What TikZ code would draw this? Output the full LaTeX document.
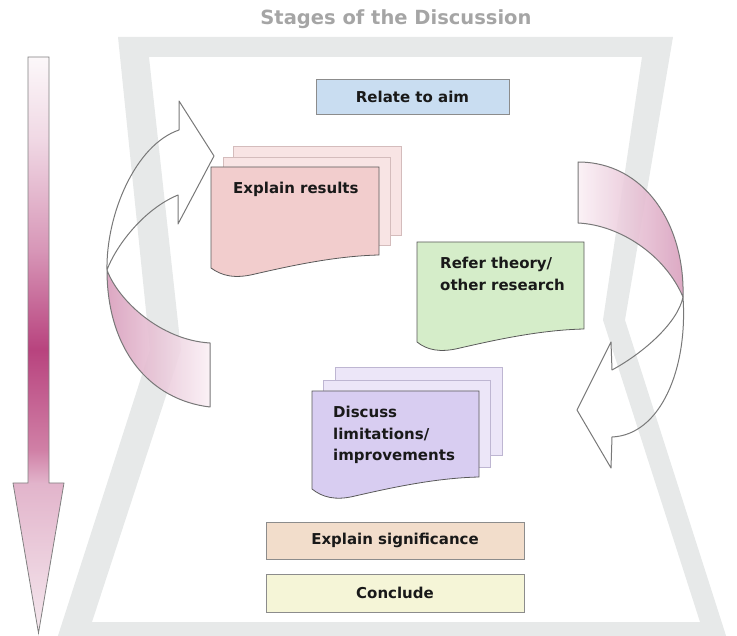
\documentclass[tikz,border=0pt]{standalone}
\usepackage{fontspec}
\setmainfont{DejaVu Sans}
\definecolor{framegray}{RGB}{231,233,233}
\definecolor{titlegray}{RGB}{165,165,165}
\definecolor{arrline}{RGB}{120,120,120}
\definecolor{pinkdark}{RGB}{216,158,188}
\definecolor{pinklight}{RGB}{250,240,245}
\definecolor{docpink}{RGB}{242,205,205}
\definecolor{docpinkb}{RGB}{248,228,228}
\definecolor{docpinkbl}{RGB}{212,188,188}
\definecolor{docgreen}{RGB}{213,237,201}
\definecolor{docpurple}{RGB}{216,205,241}
\definecolor{docpurpleb}{RGB}{236,230,248}
\definecolor{docpurplebl}{RGB}{190,182,210}
\definecolor{boxblue}{RGB}{201,221,241}
\definecolor{boxpeach}{RGB}{242,221,203}
\definecolor{boxyellow}{RGB}{245,245,215}
\definecolor{vtop}{RGB}{252,248,250}
\definecolor{vtopb}{RGB}{240,216,228}
\definecolor{vhigh}{RGB}{215,150,183}
\definecolor{vmid}{RGB}{184,67,126}
\definecolor{vlowa}{RGB}{208,128,166}
\definecolor{vlow}{RGB}{226,180,203}
\definecolor{vbot}{RGB}{245,232,238}
\pgfdeclareverticalshading{vshade}{100bp}{color(0bp)=(vbot); color(25bp)=(vbot); color(38bp)=(vlow); color(40.9bp)=(vlowa); color(49.6bp)=(vmid); color(58.2bp)=(vhigh); color(67.8bp)=(vtopb); color(75bp)=(vtop); color(100bp)=(vtop)}
\begin{document}
\begin{tikzpicture}[x=1pt,y=-1pt,
  lbl/.style={font=\fontsize{15}{21.5}\selectfont\bfseries, text=black!90, inner sep=0pt},
  box/.style={lbl, draw=black!45, line width=0.8pt},
  docfront/.style={draw=black!65, line width=0.8pt},
  arrowline/.style={draw=arrline, line width=1pt, line join=round},
  titlestyle/.style={font=\fontsize{19.5}{22}\selectfont\bfseries, text=titlegray, inner sep=0pt}]
\useasboundingbox (0,0) rectangle (737,636);
% frame
\fill[framegray, even odd rule]
  (118,37) -- (673,37) -- (625,320) -- (729,645) -- (55,645) -- (150,350) -- cycle
  (149,57) -- (642,57) -- (603,320) -- (700,622) -- (92,622) -- (181,350) -- cycle;
% title
\node[titlestyle] (title) at (396,19.5) {Stages of the Discussion};
% vertical arrow
\shadedraw[shading=vshade, draw=black!50, line width=0.8pt]
  (28,57) -- (49,57) -- (49,483) -- (64,483) -- (38.5,633) -- (13,483) -- (28,483) -- cycle;
% left curved arrow
\draw[arrowline]
  (107,270) .. controls (106,215) and (135,145) .. (179,130) -- (179,101) -- (214,156)
  -- (178,224) -- (178,195) .. controls (142,210) and (115,248) .. (107,270) -- cycle;
\shadedraw[arrowline, left color=pinkdark, right color=pinklight, fill opacity=0.9]
  (107,270) .. controls (107,350) and (150,400) .. (210,407) -- (210,343)
  .. controls (160,340) and (118,300) .. (107,270) -- cycle;
% right curved arrow
\shadedraw[arrowline, left color=pinklight, right color=pinkdark, fill opacity=0.9]
  (578,162) .. controls (645,162) and (685,225) .. (683,297)
  .. controls (665,255) and (620,225) .. (578,223) -- cycle;
\draw[arrowline]
  (683,297) .. controls (688,370) and (660,435) .. (612,437) -- (611,468) -- (577,410)
  -- (611,342) -- (612,370) .. controls (645,352) and (678,322) .. (683,297) -- cycle;
% Explain results stack
\draw[fill=docpinkb, draw=docpinkbl, line width=0.8pt] (233,146) rectangle (401,235);
\draw[fill=docpinkb, draw=docpinkbl, line width=0.8pt] (223,157) rectangle (390,245);
\draw[docfront, fill=docpink] (211,167) -- (379,167) -- (379,255)
  .. controls (335,256) and (290,266) .. (255,274) .. controls (235,279) and (222,276) .. (211,268) -- cycle;
\node[lbl, anchor=base west] (results) at (233,194) {Explain results};
% Refer theory
\draw[docfront, fill=docgreen] (417,242) -- (584,242) -- (584,329)
  .. controls (540,330) and (495,340) .. (460,348) .. controls (440,353) and (427,350) .. (417,342) -- cycle;
\node[lbl, anchor=north west, align=left] (theory) at (440,257) {Refer theory/\\other research};
% Discuss limitations stack
\draw[fill=docpurpleb, draw=docpurplebl, line width=0.8pt] (335,367) rectangle (502,455);
\draw[fill=docpurpleb, draw=docpurplebl, line width=0.8pt] (323,380) rectangle (490,467);
\draw[docfront, fill=docpurple] (312,391) -- (479,391) -- (479,477)
  .. controls (435,478) and (390,488) .. (355,496) .. controls (335,501) and (322,497) .. (312,489) -- cycle;
\node[lbl, anchor=north west, align=left] (limits) at (333,406) {Discuss\\limitations/\\improvements};
% plain boxes
\node[box, fill=boxblue, minimum width=193pt, minimum height=35pt] (relate) at (412.5,96.5) {Relate to aim};
\node[box, fill=boxpeach, minimum width=258pt, minimum height=37pt] (signif) at (395,540.5) {Explain significance};
\node[box, fill=boxyellow, minimum width=258pt, minimum height=38pt] (conclude) at (395,593) {Conclude};
\end{tikzpicture}
\end{document}
